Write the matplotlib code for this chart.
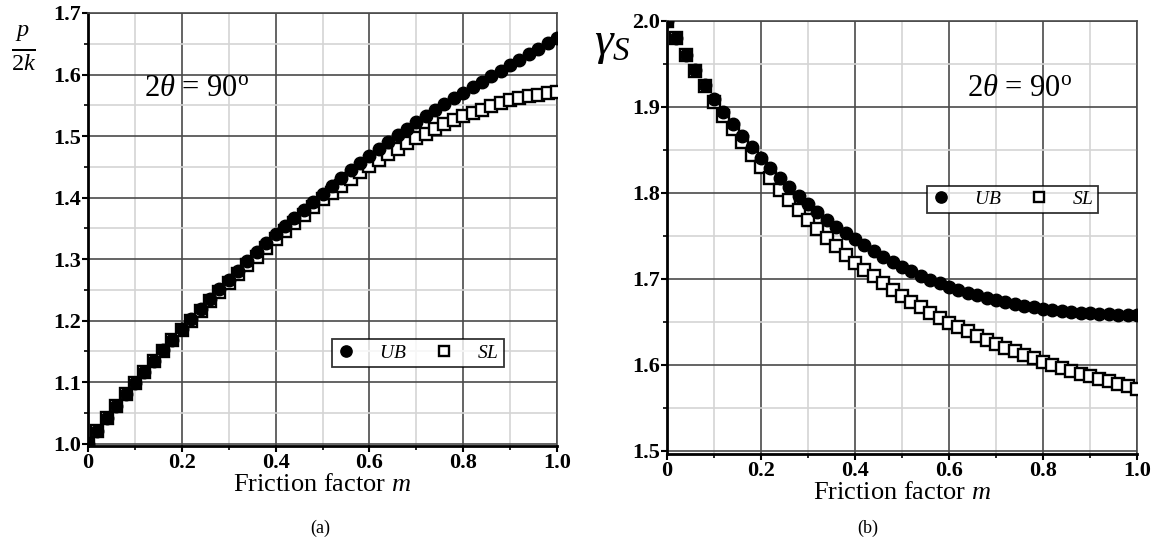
import matplotlib
matplotlib.use("Agg")
import matplotlib.pyplot as plt
from matplotlib.ticker import MultipleLocator

plt.rcParams['font.family'] = ['Liberation Serif', 'DejaVu Serif']
plt.rcParams['mathtext.fontset'] = 'custom'
plt.rcParams['mathtext.rm'] = 'Liberation Serif'
plt.rcParams['mathtext.it'] = 'Liberation Serif:italic'
plt.rcParams['mathtext.bf'] = 'Liberation Serif:bold'

# ---------------- data ----------------
m = [0.00, 0.02, 0.04, 0.06, 0.08, 0.10, 0.12, 0.14, 0.16, 0.18,
     0.20, 0.22, 0.24, 0.26, 0.28, 0.30, 0.32, 0.34, 0.36, 0.38,
     0.40, 0.42, 0.44, 0.46, 0.48, 0.50, 0.52, 0.54, 0.56, 0.58,
     0.60, 0.62, 0.64, 0.66, 0.68, 0.70, 0.72, 0.74, 0.76, 0.78,
     0.80, 0.82, 0.84, 0.86, 0.88, 0.90, 0.92, 0.94, 0.96, 0.98, 1.00]

p_ub = [1.000, 1.021, 1.041, 1.061, 1.080, 1.099, 1.117, 1.135, 1.152, 1.169,
        1.186, 1.203, 1.219, 1.235, 1.251, 1.266, 1.281, 1.296, 1.311, 1.326,
        1.340, 1.354, 1.367, 1.380, 1.393, 1.406, 1.419, 1.432, 1.444, 1.456,
        1.468, 1.479, 1.490, 1.501, 1.512, 1.522, 1.532, 1.542, 1.552, 1.561,
        1.570, 1.579, 1.588, 1.597, 1.606, 1.615, 1.624, 1.633, 1.642, 1.651, 1.659]

p_sl = [1.000, 1.021, 1.041, 1.061, 1.080, 1.099, 1.117, 1.134, 1.151, 1.168,
        1.184, 1.200, 1.216, 1.231, 1.246, 1.261, 1.276, 1.290, 1.304, 1.318,
        1.332, 1.345, 1.358, 1.371, 1.384, 1.397, 1.408, 1.419, 1.430, 1.441,
        1.452, 1.461, 1.470, 1.479, 1.488, 1.497, 1.504, 1.511, 1.519, 1.526,
        1.533, 1.538, 1.543, 1.549, 1.554, 1.559, 1.562, 1.565, 1.567, 1.570, 1.572]

g_ub = [2.000, 1.980, 1.961, 1.943, 1.925, 1.909, 1.894, 1.880, 1.866, 1.853,
        1.841, 1.829, 1.818, 1.807, 1.797, 1.787, 1.778, 1.769, 1.761, 1.753,
        1.746, 1.739, 1.732, 1.726, 1.720, 1.714, 1.709, 1.704, 1.699, 1.695,
        1.691, 1.687, 1.684, 1.681, 1.678, 1.675, 1.673, 1.671, 1.669, 1.667,
        1.665, 1.664, 1.663, 1.662, 1.661, 1.660, 1.659, 1.659, 1.658, 1.658, 1.658]

g_sl = [2.000, 1.980, 1.961, 1.942, 1.924, 1.906, 1.890, 1.874, 1.859, 1.844,
        1.830, 1.817, 1.804, 1.792, 1.780, 1.769, 1.758, 1.748, 1.738, 1.728,
        1.719, 1.711, 1.703, 1.695, 1.687, 1.680, 1.673, 1.667, 1.661, 1.655,
        1.649, 1.644, 1.639, 1.634, 1.629, 1.624, 1.620, 1.616, 1.612, 1.608,
        1.604, 1.600, 1.597, 1.593, 1.590, 1.587, 1.584, 1.581, 1.578, 1.575, 1.572]

x_ticks = [0, 0.2, 0.4, 0.6, 0.8, 1.0]
x_ticklabels = ['0', '0.2', '0.4', '0.6', '0.8', '1.0']
yl_ticks = [1.0, 1.1, 1.2, 1.3, 1.4, 1.5, 1.6, 1.7]
yr_ticks = [1.5, 1.6, 1.7, 1.8, 1.9, 2.0]

fig = plt.figure(figsize=(11.64, 5.47), dpi=100)
axL = fig.add_axes([88/1164, 1-446/547, (557-88)/1164, (446-13)/547])
axR = fig.add_axes([667/1164, 1-454/547, (1137-667)/1164, (454-21)/547])


def style(ax, ylim, yticks, ymajor, yminor):
    ax.set_xlim(0, 1.0)
    ax.set_ylim(*ylim)
    ax.xaxis.set_minor_locator(MultipleLocator(0.1))
    ax.yaxis.set_minor_locator(MultipleLocator(yminor))
    ax.set_xticks(x_ticks)
    ax.set_xticklabels(x_ticklabels)
    ax.set_yticks(yticks)
    ax.set_yticklabels([f'{v:.1f}' for v in yticks])
    ax.grid(which='minor', color='#d4d4d4', lw=1.2, zorder=0)
    ax.grid(which='major', color='#4a4a4a', lw=1.2, zorder=0)
    ax.set_axisbelow(True)
    for s in ['top', 'right']:
        ax.spines[s].set_color('#4a4a4a')
        ax.spines[s].set_linewidth(1.2)
    for s in ['left', 'bottom']:
        ax.spines[s].set_color('black')
        ax.spines[s].set_linewidth(2.0)
    ax.tick_params(which='major', direction='out', length=4, width=1.5,
                   labelsize=16, pad=1)
    ax.tick_params(which='minor', direction='out', length=3, width=1.2)
    for lab in ax.get_xticklabels() + ax.get_yticklabels():
        lab.set_fontweight('bold')
    ax.set_xlabel(r'Friction factor $\mathit{m}$', fontsize=19, labelpad=1)


def draw(ax, x, ub, sl):
    ax.plot(x, sl, ls='none', marker='s', ms=8.4, mfc='white', mec='black',
            mew=1.7, label=r'$SL$', zorder=3)
    ax.plot(x, ub, ls='none', marker='o', ms=9.0, mfc='black', mec='black',
            label=r'$UB$', zorder=4)


draw(axL, m, p_ub, p_sl)
draw(axR, m, g_ub, g_sl)
style(axL, (0.996, 1.7), yl_ticks, 0.1, 0.05)
style(axR, (1.4965, 2.0), yr_ticks, 0.1, 0.05)

for ax, anchor in [(axL, (0.703, 0.215)), (axR, (0.735, 0.588))]:
    h, l = ax.get_legend_handles_labels()
    leg = ax.legend(h[::-1], l[::-1], ncol=2, loc='center', bbox_to_anchor=anchor,
                    frameon=True, fancybox=False, edgecolor='black',
                    fontsize=14, handletextpad=1.2, columnspacing=1.4,
                    borderpad=0.25, handlelength=1.0, borderaxespad=0,
                    markerscale=0.9)
    leg.get_frame().set_linewidth(1.3)
    leg.set_zorder(6)

label_2theta = r'2$\theta$ = 90$^{\mathrm{o}}$'
axL.text(0.232, 1.578, label_2theta, fontsize=22,
         ha='center', va='center', zorder=5)
axR.text(0.751, 1.922, label_2theta, fontsize=22,
         ha='center', va='center', zorder=5)

fig.text(0.020, 0.912, r'$\frac{p}{2k}$', fontsize=25, ha='center', va='center')
fig.text(0.526, 0.918, r'$\gamma_S$', fontsize=34, ha='center', va='center')

fig.text(320/1164, 1-528/547, '(a)', fontsize=13, ha='center', va='center')
fig.text(868/1164, 1-528/547, '(b)', fontsize=13, ha='center', va='center')

fig.savefig('out.png', dpi=100)
